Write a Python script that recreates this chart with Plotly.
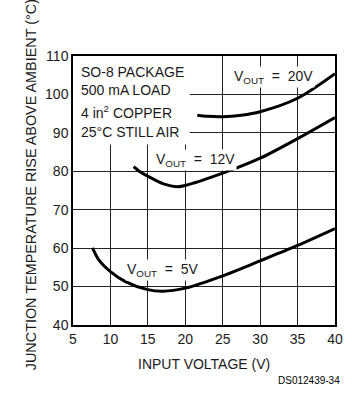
import plotly.graph_objects as go

# Data
v5_x = [7.6, 8.5, 10, 12, 15, 17, 20, 25, 30, 35, 40]
v5_y = [60.1, 56.8, 53.9, 51.3, 49.2, 48.8, 49.6, 52.8, 56.7, 60.7, 65.1]

v12_x = [13.1, 14, 15, 17, 19, 20, 25, 30, 35, 40]
v12_y = [81.2, 79.8, 78.7, 76.8, 76.0, 76.3, 79.5, 83.4, 88.5, 94.0]

v20_x = [21.6, 23, 25, 27.5, 30, 35, 40]
v20_y = [94.6, 94.3, 94.2, 94.6, 95.5, 99.0, 105.4]

x_ticks = [5, 10, 15, 20, 25, 30, 35, 40]
y_ticks = [40, 50, 60, 70, 80, 90, 100, 110]

box_lines = ["SO-8 PACKAGE", "500 mA LOAD", "4 in<sup>2</sup> COPPER", "25°C STILL AIR"]
box_y = [105.9, 101.1, 95.4, 90.3]

FONT = "Liberation Sans"
TXT = "#1a1a1a"

fig = go.Figure()
for xs, ys in [(v5_x, v5_y), (v12_x, v12_y), (v20_x, v20_y)]:
    fig.add_trace(go.Scatter(x=xs, y=ys, mode="lines",
                             line=dict(color="black", width=3, shape="spline", smoothing=0.8),
                             showlegend=False, hoverinfo="skip"))

fig.add_shape(type="rect", x0=5, x1=20.6, y0=87, y1=110, xref="x", yref="y",
              fillcolor="white", line=dict(width=0), layer="between")

ann = []
for t, yv in zip(box_lines, box_y):
    ann.append(dict(x=5.85, y=yv, xref="x", yref="y", text=t, showarrow=False,
                    xanchor="left", yanchor="middle", font=dict(family=FONT, size=14, color=TXT)))

nb = "\u00a0"
labels = [("V<sub>OUT</sub>" + nb*2 + "=" + nb*2 + "20V", 31.8, 104.6),
          ("V<sub>OUT</sub>" + nb*2 + "=" + nb*2 + "12V", 21.4, 82.9),
          ("V<sub>OUT</sub>" + nb*2 + "=" + nb*2 + "5V", 17.0, 54.4)]
for t, xv, yv in labels:
    ann.append(dict(x=xv, y=yv, xref="x", yref="y", text=t, showarrow=False,
                    xanchor="center", yanchor="middle", bgcolor="white", borderpad=1,
                    font=dict(family=FONT, size=14, color=TXT)))

ann.append(dict(x=208, y=374, text="INPUT VOLTAGE (V)", showarrow=False,
                font=dict(family=FONT, size=14, color=TXT)))
ann.append(dict(x=20, y=185, text="JUNCTION TEMPERATURE RISE ABOVE AMBIENT (°C)", showarrow=False,
                textangle=-90, font=dict(family=FONT, size=14.4, color=TXT)))
ann.append(dict(x=350, y=388, text="DS012439-34", showarrow=False, xanchor="right",
                font=dict(family="Liberation Sans", size=10, color="black")))

# convert pixel-positioned annotations to paper coordinates
W, H = 352, 394
ml, mr, mt, mb = 73.3, 9, 55.7, 68.7
pw, ph = W - ml - mr, H - mt - mb
for a in ann[-3:]:
    a["xref"] = "paper"; a["yref"] = "paper"
    a["x"] = (a["x"] - ml) / pw
    a["y"] = 1 - (a["y"] - mt) / ph

fig.update_layout(
    width=W, height=H,
    margin=dict(l=ml, r=mr, t=mt, b=mb, pad=0),
    paper_bgcolor="white", plot_bgcolor="white",
    annotations=ann,
    xaxis=dict(range=[5, 40], tickvals=x_ticks, ticktext=[str(v) for v in x_ticks],
               showgrid=True, gridcolor="#222", gridwidth=1.3,
               showline=True, linecolor="black", linewidth=1.5, mirror=True,
               ticks="", ticklen=0, zeroline=False,
               tickfont=dict(family=FONT, size=14, color=TXT)),
    yaxis=dict(range=[40, 110], tickvals=y_ticks, ticktext=[str(v) for v in y_ticks],
               showgrid=True, gridcolor="#222", gridwidth=1.3,
               showline=True, linecolor="black", linewidth=1.5, mirror=True,
               ticks="", ticklen=0, zeroline=False,
               tickfont=dict(family=FONT, size=14, color=TXT)),
)
fig.write_html("out.html", config={"displayModeBar": False},
               post_script="document.body.style.margin='0';document.body.style.overflow='hidden';")
